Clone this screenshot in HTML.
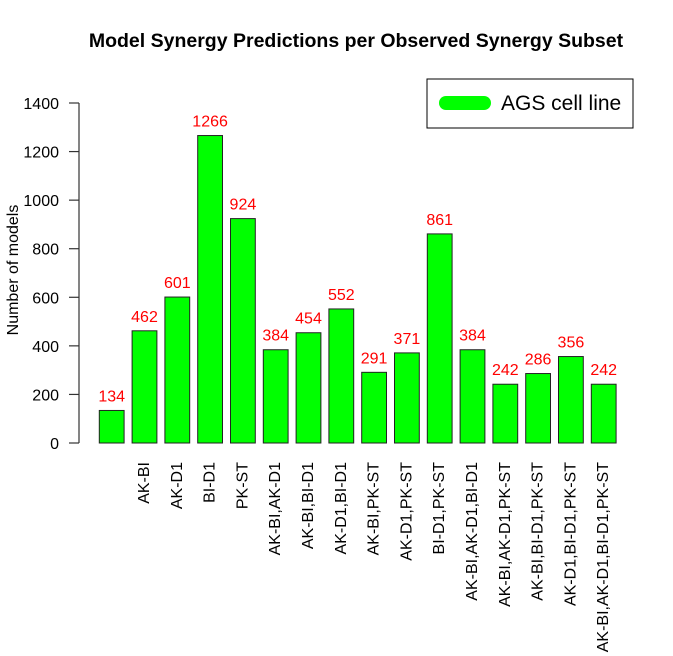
<!DOCTYPE html>
<html><head><meta charset="utf-8"><style>
body{margin:0;background:#fff}
svg{display:block;font-family:"Liberation Sans",Arial,sans-serif}
</style></head><body>
<svg id="chart" width="673" height="656" viewBox="0 0 673 656">
<text x="356" y="47" text-anchor="middle" font-size="19.5" font-weight="bold">Model Synergy Predictions per Observed Synergy Subset</text>
<text transform="translate(18,270) rotate(-90)" text-anchor="middle" font-size="16">Number of models</text>
<g id="yaxis"></g>
<g id="bars"></g>
<g id="xlabels"></g>
<g>
<rect x="427" y="79" width="206" height="49" fill="#fff" stroke="#000" stroke-width="1"/>
<line x1="446" y1="103" x2="484" y2="103" stroke="#00ff00" stroke-width="14" stroke-linecap="round"/>
<text x="501" y="110" font-size="21">AGS cell line</text>
</g>
</svg>
<script>
const categories=["","AK-BI","AK-D1","BI-D1","PK-ST","AK-BI,AK-D1","AK-BI,BI-D1","AK-D1,BI-D1","AK-BI,PK-ST","AK-D1,PK-ST","BI-D1,PK-ST","AK-BI,AK-D1,BI-D1","AK-BI,AK-D1,PK-ST","AK-BI,BI-D1,PK-ST","AK-D1,BI-D1,PK-ST","AK-BI,AK-D1,BI-D1,PK-ST"];
const values=[134,462,601,1266,924,384,454,552,291,371,861,384,242,286,356,242];
const yTicks=[0,200,400,600,800,1000,1200,1400];
const NS="http://www.w3.org/2000/svg";
const y0=443,y1=103,vmax=1400;
function yScale(v){return y0-(v/vmax)*(y0-y1);}
const barLeft0=99.3,step=32.8,barW=24.8;
function xScale(i){return barLeft0+step*i;}
function mk(tag,attrs){const e=document.createElementNS(NS,tag);for(const k in attrs)e.setAttribute(k,attrs[k]);return e;}
const ya=document.getElementById('yaxis');
let l=mk('line',{x1:79,x2:79,y1:yScale(0),y2:yScale(vmax),stroke:'#333','stroke-width':1.2});


ya.appendChild(l);
yTicks.forEach(t=>{
 const tk=mk('line',{x1:69,x2:79,y1:yScale(t),y2:yScale(t),stroke:'#333','stroke-width':1.2});
 
 
 ya.appendChild(tk);
 const tx=mk('text',{x:59,y:yScale(t)+6,'text-anchor':'end','font-size':16});
 
 
 tx.textContent=t;ya.appendChild(tx);
});
const bg=document.getElementById('bars'),xg=document.getElementById('xlabels');
values.forEach((v,i)=>{
 const x=xScale(i);
 const r=mk('rect',{x:x,y:yScale(v),width:barW,height:yScale(0)-yScale(v),fill:'#00ff00',stroke:'#222','stroke-width':1});
 
 
 bg.appendChild(r);
 const t=mk('text',{x:x+barW/2,y:yScale(v)-9,'text-anchor':'middle','font-size':16,fill:'#ff0000'});
 
 
 t.textContent=v;bg.appendChild(t);
 if(categories[i]){
  const cx=x+barW/2+4.5;
  const c=mk('text',{transform:'translate('+cx+',462) rotate(-90)','text-anchor':'end','font-size':16});
  
  
  c.textContent=categories[i];xg.appendChild(c);
 }
});
</script>
</body></html>
